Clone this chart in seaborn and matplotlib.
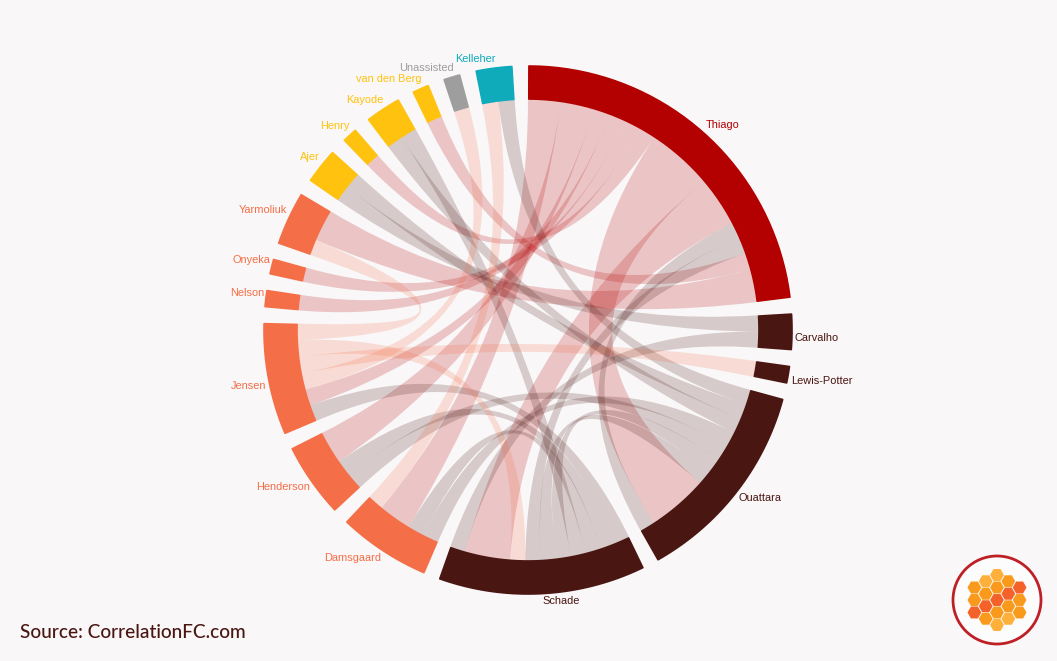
#!/usr/bin/env python3
"""Assist network chord diagram, drawn with matplotlib patches on a seaborn theme."""

from collections import defaultdict

import matplotlib.pyplot as plt
import numpy as np
import seaborn as sns
from matplotlib.patches import Circle, PathPatch, RegularPolygon
from matplotlib.path import Path

BG = '#F9F7F8'
RED = '#B30000'
DARK = '#4A1612'
ORANGE = '#F46F47'
YELLOW = '#FFC20E'
GREY = '#9E9E9E'
TEAL = '#0FABBB'

# Groups, clockwise from the top
GROUP_NAMES = ['Thiago', 'Carvalho', 'Lewis-Potter', 'Ouattara', 'Schade', 'Damsgaard',
               'Henderson', 'Jensen', 'Nelson', 'Onyeka', 'Yarmoliuk', 'Ajer', 'Henry',
               'Kayode', 'van den Berg', 'Unassisted', 'Kelleher']
GROUP_SIZES = [83.0, 8.1, 4.0, 45.6, 45.7, 20.5, 16.6, 24.8, 3.9, 3.6, 12.0, 8.1, 3.6,
               8.1, 3.9, 3.9, 8.2]
GROUP_COLORS = [RED, DARK, DARK, DARK, DARK, ORANGE, ORANGE, ORANGE, ORANGE, ORANGE, ORANGE,
                YELLOW, YELLOW, YELLOW, YELLOW, GREY, TEAL]

# Links, coloured by the "from" group
LINK_FROM = ['Thiago'] * 10 + ['Ouattara'] * 8 + ['Schade'] * 5 + ['Carvalho'] * 2 \
    + ['Jensen'] * 4 + ['Damsgaard']
LINK_TO = ['Damsgaard', 'Henderson', 'Jensen', 'Nelson', 'Onyeka', 'Henry', 'Ouattara',
           'Schade', 'van den Berg', 'Yarmoliuk',
           'Thiago', 'Kelleher', 'Ajer', 'Kayode', 'Henderson', 'Damsgaard', 'Schade', 'Schade',
           'Thiago', 'Kayode', 'Jensen', 'Henderson', 'Damsgaard',
           'Ajer', 'Schade',
           'Yarmoliuk', 'Schade', 'Lewis-Potter', 'Unassisted',
           'Kelleher']
LINK_VALUES = [2, 2, 1, 1, 1, 1, 4, 3, 1, 2,
               1, 1, 1, 1, 1, 1, 1, 1,
               1, 1, 1, 1, 1,
               1, 1,
               1, 1, 1, 1,
               1]

# Clockwise order of link ends in each group; "<X" is a link that comes from X
LINK_ORDER = {
    'Thiago': ['Damsgaard', 'Henderson', 'Jensen', 'Nelson', 'Onyeka', 'Henry', 'Ouattara',
               'Schade', '<Ouattara', '<Schade', 'van den Berg', 'Yarmoliuk'],
    'Carvalho': ['Ajer', 'Schade'],
    'Lewis-Potter': ['<Jensen'],
    'Ouattara': ['Kelleher', 'Ajer', 'Kayode', 'Damsgaard', 'Henderson', 'Schade', 'Schade',
                 '<Thiago', 'Thiago'],
    'Schade': ['Jensen', 'Henderson', 'Damsgaard', 'Kayode', '<Ouattara', '<Ouattara', 'Thiago',
               '<Jensen', '<Thiago', '<Carvalho'],
    'Damsgaard': ['<Ouattara', '<Schade', '<Thiago', 'Kelleher'],
    'Henderson': ['<Ouattara', '<Schade', '<Thiago'],
    'Jensen': ['<Schade', '<Thiago', 'Unassisted', 'Lewis-Potter', 'Schade', 'Yarmoliuk'],
    'Nelson': ['<Thiago'],
    'Onyeka': ['<Thiago'],
    'Yarmoliuk': ['<Jensen', '<Thiago'],
    'Ajer': ['<Carvalho', '<Ouattara'],
    'Henry': ['<Thiago'],
    'Kayode': ['<Ouattara', '<Schade'],
    'van den Berg': ['<Thiago'],
    'Unassisted': ['<Jensen'],
    'Kelleher': ['<Damsgaard', '<Ouattara'],
}

# Label centres in figure pixels
LABEL_POS = {
    'Thiago': (723, 124.5), 'Carvalho': (817, 338), 'Lewis-Potter': (822, 381),
    'Ouattara': (760, 498), 'Schade': (561, 601), 'Damsgaard': (353, 558),
    'Henderson': (283, 487), 'Jensen': (249, 386), 'Nelson': (247, 293),
    'Onyeka': (251, 260), 'Yarmoliuk': (263, 210), 'Ajer': (310, 157),
    'Henry': (335, 126), 'Kayode': (365, 100), 'van den Berg': (389, 79),
    'Unassisted': (426, 68), 'Kelleher': (475, 59),
}

# Logo honeycomb: column offset, row offset (half steps), colour shade
LOGO_LIGHT = '#FFB03B'
LOGO_MID = '#FA9A1C'
LOGO_HOT = '#F4622A'
LOGO_CELLS = [
    (-2, -1, LOGO_MID), (-2, 1, LOGO_MID), (-2, 3, LOGO_HOT),
    (-1, -2, LOGO_LIGHT), (-1, 0, LOGO_MID), (-1, 2, LOGO_HOT), (-1, 4, LOGO_MID),
    (0, -3, LOGO_LIGHT), (0, -1, LOGO_MID), (0, 1, LOGO_HOT), (0, 3, LOGO_MID), (0, 5, LOGO_LIGHT),
    (1, -2, LOGO_MID), (1, 0, LOGO_HOT), (1, 2, LOGO_MID), (1, 4, LOGO_LIGHT),
    (2, -1, LOGO_HOT), (2, 1, LOGO_MID), (2, 3, LOGO_MID),
]

CX, CY = 528, 330
R_INNER, R_OUTER = 231, 264
GAP = 3.31
CURVE = 0.31


def polar(angle, radius):
    """Clockwise degrees from the top to pixel coordinates."""
    a = np.radians(angle)
    return CX + radius * np.sin(a), CY - radius * np.cos(a)


def arc_points(a0, a1, radius, n=40):
    return [polar(a, radius) for a in np.linspace(a0, a1, n)]


def layout_groups():
    unit = (360 - GAP * len(GROUP_SIZES)) / sum(GROUP_SIZES)
    spans = {}
    pos = 0.0
    for name, size in zip(GROUP_NAMES, GROUP_SIZES):
        spans[name] = (pos, pos + size * unit)
        pos += size * unit + GAP
    return spans


def layout_links(spans):
    """Hand out each group's arc to its link ends, in clockwise order."""
    free = defaultdict(list)
    for i, (src, dst) in enumerate(zip(LINK_FROM, LINK_TO)):
        free[(src, dst)].append(i)
    ends = defaultdict(dict)
    for group, order in LINK_ORDER.items():
        seen = defaultdict(int)
        picked = []
        for entry in order:
            key = (entry[1:], group) if entry.startswith('<') else (group, entry)
            picked.append((free[key][seen[key]], key[0] == group))
            seen[key] += 1
        total = sum(LINK_VALUES[i] for i, _ in picked)
        start, stop = spans[group]
        pos = start
        for i, is_source in picked:
            width = (stop - start) * LINK_VALUES[i] / total
            ends[i]['a' if is_source else 'b'] = (pos, pos + width)
            pos += width
    return ends


def ribbon_path(a, b):
    pts = arc_points(a[0], a[1], R_INNER)
    codes = [Path.MOVETO] + [Path.LINETO] * (len(pts) - 1)
    pts += [polar(a[1], R_INNER * CURVE), polar(b[0], R_INNER * CURVE), polar(b[0], R_INNER)]
    codes += [Path.CURVE4] * 3
    back = arc_points(b[0], b[1], R_INNER)[1:]
    pts += back
    codes += [Path.LINETO] * len(back)
    pts += [polar(b[1], R_INNER * CURVE), polar(a[0], R_INNER * CURVE), polar(a[0], R_INNER)]
    codes += [Path.CURVE4] * 3
    return Path(pts, codes)


def band_polygon(a0, a1):
    return np.array(arc_points(a0, a1, R_OUTER) + arc_points(a1, a0, R_INNER))


def main():
    sns.set_theme(style='white', rc={'figure.facecolor': BG, 'axes.facecolor': BG})
    plt.rcParams['font.family'] = ['Liberation Sans', 'DejaVu Sans']

    fig = plt.figure(figsize=(10.57, 6.61), dpi=100)
    ax = fig.add_axes([0, 0, 1, 1])
    ax.set_xlim(0, 1057)
    ax.set_ylim(661, 0)
    ax.axis('off')

    colors = dict(zip(GROUP_NAMES, GROUP_COLORS))
    spans = layout_groups()
    ends = layout_links(spans)

    # Ribbons
    for i, src in enumerate(LINK_FROM):
        path = ribbon_path(ends[i]['a'], ends[i]['b'])
        ax.add_patch(PathPatch(path, facecolor=colors[src], alpha=0.2, edgecolor='none', lw=0))

    # Group arcs with slightly rounded corners
    for name in GROUP_NAMES:
        a0, a1 = spans[name]
        ax.fill(*band_polygon(a0 + 0.2, a1 - 0.2).T, facecolor=colors[name],
                edgecolor=colors[name], lw=1.2, joinstyle='round', zorder=3)
        x, y = LABEL_POS[name]
        ax.text(x, y, name, color=colors[name], fontsize=7.9, ha='center', va='center')

    ax.text(20, 632, 'Source: CorrelationFC.com', color=DARK, fontsize=13.7, fontweight='medium',
            family=['Lato', 'DejaVu Sans'], ha='left', va='center')

    # Logo
    logo_x, logo_y = 997, 600
    ax.add_patch(Circle((logo_x, logo_y), 44, facecolor='#FDFCFC', edgecolor='#BE2026', lw=2))
    for col, row, shade in LOGO_CELLS:
        ax.add_patch(RegularPolygon((logo_x + col * 11.3, logo_y + (row - 1) * 6.25), 6,
                                    radius=6.9, orientation=np.pi / 6, facecolor=shade,
                                    edgecolor='none'))

    fig.savefig('out.png', dpi=100, facecolor=BG)
    plt.close(fig)


if __name__ == '__main__':
    main()
